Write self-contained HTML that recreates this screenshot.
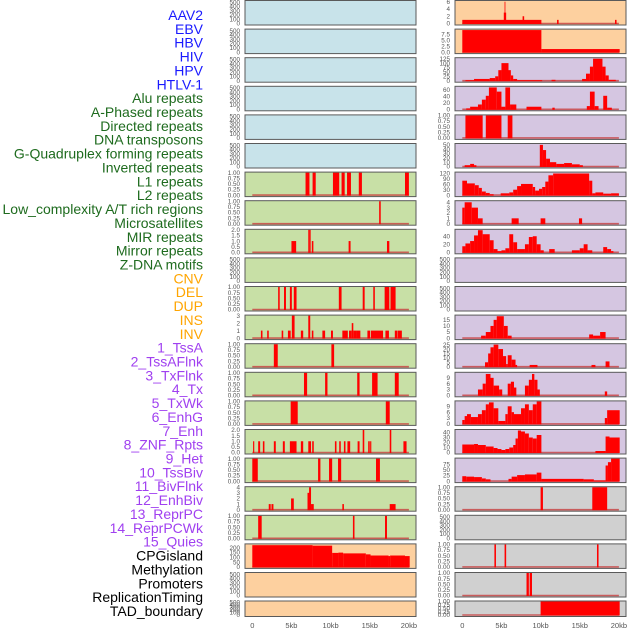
<!DOCTYPE html>
<html><head><meta charset="utf-8">
<style>
html,body{margin:0;padding:0;background:#fff;}
svg{display:block;}
text{font-family:"Liberation Sans",sans-serif;}
</style></head>
<body>
<svg id="chart" width="630" height="630" viewBox="0 0 630 630" xmlns="http://www.w3.org/2000/svg"></svg>
<script>
// ---- data ----
const labelNames = ["AAV2","EBV","HBV","HIV","HPV","HTLV-1","Alu repeats","A-Phased repeats","Directed repeats","DNA transposons","G-Quadruplex forming repeats","Inverted repeats","L1 repeats","L2 repeats","Low_complexity A/T rich regions","Microsatellites","MIR repeats","Mirror repeats","Z-DNA motifs","CNV","DEL","DUP","INS","INV","1_TssA","2_TssAFlnk","3_TxFlnk","4_Tx","5_TxWk","6_EnhG","7_Enh","8_ZNF_Rpts","9_Het","10_TssBiv","11_BivFlnk","12_EnhBiv","13_ReprPC","14_ReprPCWk","15_Quies","CPGisland","Methylation","Promoters","ReplicationTiming","TAD_boundary"];
const labelGroups = ["v","v","v","v","v","v","r","r","r","r","r","r","r","r","r","r","r","r","r","s","s","s","s","s","c","c","c","c","c","c","c","c","c","c","c","c","c","c","c","o","o","o","o","o"];
const xTickValues = [0,5,10,15,20];
const xTickLabels = ["0","5kb","10kb","15kb","20kb"];

const ticks500 = [0,100,200,300,400,500];
const ticks1 = [0,0.25,0.5,0.75,1];
const ticks2 = [0,0.5,1,1.5,2];
const ticks3 = [0,1,2,3];
const ticks4 = [0,1,2,3,4];

// segments: [startKb, endKb, value]
const rAAV = [[0,10.1,1],[5.3,5.6,3],[5.4,5.5,6],[7.7,7.9,2],[12.1,12.3,1],[19.5,19.7,1]];
const rEBV = [[0,10.1,9.4],[10.1,20.1,1.3]];
const rRow2 = [[0.4,1.5,3],[1.5,3.5,10],[3.5,4.2,15],[4.2,4.6,25],[4.6,5.0,60],[5.0,5.9,100],[5.9,6.2,60],[6.2,6.5,30],[6.5,7,10],[7,10.2,3],[11.4,11.9,5],[15.3,15.8,10],[15.8,16.3,40],[16.3,16.7,80],[16.7,17.9,125],[17.9,18.3,80],[18.3,18.7,30],[18.7,19.6,5]];
const rRow3 = [[0.5,1,3],[1,2,8],[2,2.5,15],[2.5,3,30],[3,3.4,42],[3.4,4.4,68],[4.4,5,55],[5,5.5,8],[5.5,6.1,68],[6.1,6.9,15],[8.2,10.1,8],[11.5,11.8,5],[15.9,16.3,10],[16.3,16.9,55],[16.9,17.4,10],[18,18.5,42],[18.5,19.1,5]];
const rRow4 = [[0.4,2.6,1],[3.0,5.0,1],[5.8,6.4,1]];
const rRow5 = [[0.3,1,3],[1,1.5,6],[1.5,1.8,3],[9.9,10.3,50],[10.3,10.7,38],[10.7,11.2,18],[11.2,12,10],[12,13,6],[13,14,8],[14,15,5],[15,15.4,3]];
const rRow6 = [[0,0.6,80],[0.6,1.6,65],[1.6,2.1,55],[2.1,2.5,40],[2.5,3,20],[3,3.5,12],[3.5,4,5],[4.9,6,10],[6,6.5,15],[6.5,7,30],[7,7.5,50],[7.5,9,62],[9,9.3,45],[9.3,9.8,25],[9.8,10.2,35],[10.2,10.6,45],[10.6,11,75],[11,11.6,110],[11.6,16.2,120],[16.2,16.6,80],[16.6,17,10],[17,18,15],[18,19,8],[19,20,10]];
const rRow7 = [[0,0.3,3],[0.3,1.2,4],[1.2,2.0,3],[2.0,2.6,1],[6.3,7.2,1],[10.0,10.6,1],[14.9,15.3,1]];
const rRow8 = [[0,0.4,15],[0.4,1,22],[1,1.5,28],[1.5,2,42],[2,2.6,55],[2.6,3.5,45],[3.5,4,30],[4,4.5,8],[4.5,5,3],[5,5.5,5],[5.5,6,10],[6,6.5,45],[6.5,7,25],[7,8,8],[8,8.5,20],[8.5,9,38],[9,9.5,40],[9.5,10,20],[10,10.4,5],[11.1,11.8,8],[14,15,5],[15,15.5,10],[15.5,16,20],[16,16.6,5],[18,18.5,13],[18.5,19,8],[19,19.3,3]];
const rRow11 = [[2.4,3,2],[3,3.6,5],[3.6,4,10],[4,4.4,15],[4.4,5.3,18],[5.3,5.8,10],[5.8,6.3,2],[16.2,16.7,3],[16.7,17.6,2],[17.6,18.3,5]];
const rRow12 = [[2.9,3.3,5],[3.3,3.6,15],[3.6,4.0,22],[4.0,4.6,25],[4.6,5.2,20],[5.2,5.6,12],[5.6,5.8,3],[5.8,6.3,13],[6.3,6.8,8],[6.8,7,2],[8.6,9.6,2],[16.5,17.0,2],[18.3,18.8,6]];
const rRow13 = [[2.0,2.6,3],[2.6,3,6],[3,3.6,11],[3.6,4,9],[4,4.7,5],[4.7,5.1,3],[5.8,6.2,6],[6.2,6.6,7],[6.6,6.9,4],[8,8.5,5],[8.5,8.9,8],[8.9,9.2,11],[9.2,9.6,8],[9.6,9.9,3],[18.2,18.5,2]];
const rRow14 = [[0,0.3,2],[0.3,0.6,4],[0.6,1.1,5],[1.1,2,3.5],[2,2.5,5],[2.5,3,7],[3,3.4,10],[3.4,4,11],[4,4.6,8],[4.6,5.5,1.5],[5.5,5.8,5],[5.8,6.3,9],[6.3,6.6,6],[6.6,7.5,5],[7.5,8,8],[8,8.5,10],[8.5,9,7],[9,9.5,10],[9.5,10.1,11.5],[18.2,18.5,3],[18.5,20.1,7]];
const rRow15 = [[0,1.5,16],[1.5,2,17],[2,3,15],[3,4,12],[4,4.5,9],[4.5,5,7],[5,5.5,5],[5.5,6,7],[6,6.5,10],[6.5,6.8,15],[6.8,7.1,28],[7.1,7.5,44],[7.5,8,42],[8,8.5,38],[8.5,9,30],[9,9.5,28],[9.5,10.1,35],[17,18.3,3],[18.3,18.8,32],[18.8,20.1,30]];
const rRow16 = [[0,0.5,22],[0.5,1.5,20],[1.5,2.5,18],[2.5,3,12],[3,3.6,8],[5.9,6.3,10],[6.3,7,20],[7,8,27],[8,9.5,30],[9.5,10.1,38],[10.1,15.5,10],[15.5,16.8,8],[16.8,18.3,3],[18.3,18.6,70],[18.6,19,85],[19,20.1,101]];
const rRow17 = [[10.0,10.3,1],[16.6,18.5,1]];
const rRow19 = [[4.1,4.3,1],[5.4,5.6,1],[17.2,17.4,1]];
const rRow20 = [[8.2,8.5,1],[8.6,8.9,1]];
const rRow21 = [[10.0,20.1,1]];

const lRow6 = [[6.8,7.3,1],[7.7,8.1,1],[10.3,11.1,1],[11.4,11.8,1],[12.1,12.6,1],[13.6,14.0,1],[19.5,20,1]];
const lRow7 = [[16.2,16.4,1]];
const lRow8 = [[5.0,5.6,1],[7.15,7.35,2],[7.35,7.45,2],[7.6,7.8,1],[12.3,12.55,1],[17.2,17.5,1]];
const lRow10 = [[3.3,3.5,1],[4.05,4.3,1],[4.8,5.05,1],[5.3,5.65,1],[11.05,11.4,1],[14.1,14.35,1],[15.45,15.65,1],[16.9,17.5,1],[17.65,18.3,1]];
const lRow11 = [[1.1,1.3,1],[1.9,2.1,1],[3.75,3.95,1],[4.55,4.9,1],[5.05,5.4,3],[6.2,6.5,1],[7.15,7.4,3],[7.6,7.8,1],[8.95,9.3,1],[10.05,10.3,1],[11.5,12.2,1],[12.35,12.7,1],[12.7,12.9,2],[12.9,13.3,1],[13.3,13.8,1],[14.7,15.05,1],[15.15,16.7,1],[17.0,17.45,1],[18.2,18.5,1],[18.55,19.1,1]];
const lRow12 = [[2.75,3.25,1],[10.1,10.45,1]];
const lRow13 = [[6.6,7.0,1],[9.3,9.6,1],[13.4,13.7,1],[15.3,16.0,1],[18.2,18.7,1]];
const lRow14 = [[4.9,5.8,1],[17.05,17.55,1]];
const lRow15 = [[0.1,0.25,1],[0.75,1.0,1],[1.35,1.55,1],[2.75,3.0,1],[3.9,4.15,1],[4.8,5.65,1],[6.2,6.5,1],[7.15,7.5,1],[7.65,7.85,1],[10.55,10.75,1],[11.1,11.3,1],[11.7,11.9,1],[12.15,12.5,1],[13.45,13.7,1],[14.1,14.3,2],[14.8,15.0,1],[15.05,15.2,1],[17.55,17.75,2],[19.3,19.7,1]];
const lRow16 = [[0,0.7,1],[8.4,8.7,1],[9.8,10.2,1],[10.95,11.35,1],[15.8,16.3,1]];
const lRow17 = [[2.1,2.35,1],[2.45,2.7,1],[4.95,5.3,2],[7.05,7.3,3],[7.25,7.5,4],[7.5,7.85,1],[11.5,11.7,1],[17.55,18.3,1]];
const lRow18 = [[0.75,1.2,1],[12.85,13.05,1],[16.95,17.2,1]];
const lRow19 = [[0,7.7,225],[7.7,10.2,220],[10.2,11,145],[11,11.6,148],[11.6,14.5,140],[14.5,15.1,130],[15.1,17.4,118],[17.4,17.6,112],[17.6,19.5,118],[19.5,20.1,112]];

// ---- layout ----
const svg = document.getElementById('chart');
const NS = 'http://www.w3.org/2000/svg';
const BG = {v:'#c8e3ea', r:'#c8e0a6', s:'#fdd09f', c:'#d5c6e1', o:'#d0d0d0'};
const LABEL_COLOR = {v:'#1a1aff', r:'#1e6b1e', s:'#ffa500', c:'#a040f0', o:'#000'};
const COLS = [{x0:245, x1:416, origin:252.3}, {x0:455, x1:626, origin:462.3}];
const KB = 7.83;
function xScale(col, kb){ return COLS[col].origin + kb*KB; }
function rowTop(r){ return r<21 ? 0.5 + r*28.6 : 601; }
function rowH(r){ return r<21 ? 24.5 : 15.5; }

function mk(tag, attrs, parent){
  const e = document.createElementNS(NS, tag);
  for (const k in attrs) e.setAttribute(k, attrs[k]);
  (parent||svg).appendChild(e);
  return e;
}

const panels = [
  {col:0,row:0,g:'v',t:ticks500,d:0,ymax:525,data:null},
  {col:0,row:1,g:'v',t:ticks500,d:0,ymax:525,data:null},
  {col:0,row:2,g:'v',t:ticks500,d:0,ymax:525,data:null},
  {col:0,row:3,g:'v',t:ticks500,d:0,ymax:525,data:null},
  {col:0,row:4,g:'v',t:ticks500,d:0,ymax:525,data:null},
  {col:0,row:5,g:'v',t:ticks500,d:0,ymax:525,data:null},
  {col:0,row:6,g:'r',t:ticks1,d:2,ymax:1,data:lRow6},
  {col:0,row:7,g:'r',t:ticks1,d:2,ymax:1,data:lRow7},
  {col:0,row:8,g:'r',t:ticks2,d:1,ymax:2,data:lRow8},
  {col:0,row:9,g:'r',t:ticks500,d:0,ymax:525,data:null},
  {col:0,row:10,g:'r',t:ticks1,d:2,ymax:1,data:lRow10},
  {col:0,row:11,g:'r',t:ticks3,d:0,ymax:3,data:lRow11},
  {col:0,row:12,g:'r',t:ticks1,d:2,ymax:1,data:lRow12},
  {col:0,row:13,g:'r',t:ticks1,d:2,ymax:1,data:lRow13},
  {col:0,row:14,g:'r',t:ticks1,d:2,ymax:1,data:lRow14},
  {col:0,row:15,g:'r',t:ticks2,d:1,ymax:2,data:lRow15},
  {col:0,row:16,g:'r',t:ticks1,d:2,ymax:1,data:lRow16},
  {col:0,row:17,g:'r',t:ticks4,d:0,ymax:4,data:lRow17},
  {col:0,row:18,g:'r',t:ticks1,d:2,ymax:1,data:lRow18},
  {col:0,row:19,g:'s',t:[0,50,100,150,200],d:0,ymax:233,data:lRow19},
  {col:0,row:20,g:'s',t:ticks500,d:0,ymax:525,data:null},
  {col:0,row:21,g:'s',t:ticks500,d:0,ymax:525,data:null},
  {col:1,row:0,g:'s',t:[0,2,4,6],d:0,ymax:6.2,data:rAAV},
  {col:1,row:1,g:'s',t:[0,2.5,5,7.5],d:1,ymax:9.6,data:rEBV},
  {col:1,row:2,g:'c',t:[0,25,50,75,100,125],d:0,ymax:128,data:rRow2},
  {col:1,row:3,g:'c',t:[0,20,40,60],d:0,ymax:70,data:rRow3},
  {col:1,row:4,g:'c',t:ticks1,d:2,ymax:1,data:rRow4},
  {col:1,row:5,g:'c',t:[0,10,20,30,40,50],d:0,ymax:52,data:rRow5},
  {col:1,row:6,g:'c',t:[0,30,60,90,120],d:0,ymax:125,data:rRow6},
  {col:1,row:7,g:'c',t:ticks4,d:0,ymax:4.2,data:rRow7},
  {col:1,row:8,g:'c',t:[0,20,40],d:0,ymax:56,data:rRow8},
  {col:1,row:9,g:'c',t:ticks500,d:0,ymax:525,data:null},
  {col:1,row:10,g:'c',t:ticks500,d:0,ymax:525,data:null},
  {col:1,row:11,g:'c',t:[0,5,10,15],d:0,ymax:18.5,data:rRow11},
  {col:1,row:12,g:'c',t:[0,5,10,15,20,25],d:0,ymax:25.5,data:rRow12},
  {col:1,row:13,g:'c',t:[0,3,6,9],d:0,ymax:11.6,data:rRow13},
  {col:1,row:14,g:'c',t:[0,3,6,9],d:0,ymax:11.5,data:rRow14},
  {col:1,row:15,g:'c',t:[0,10,20,30,40],d:0,ymax:45,data:rRow15},
  {col:1,row:16,g:'c',t:[0,25,50,75],d:0,ymax:101,data:rRow16},
  {col:1,row:17,g:'o',t:ticks1,d:2,ymax:1,data:rRow17},
  {col:1,row:18,g:'o',t:ticks500,d:0,ymax:525,data:null},
  {col:1,row:19,g:'o',t:ticks1,d:2,ymax:1,data:rRow19},
  {col:1,row:20,g:'o',t:ticks1,d:2,ymax:1,data:rRow20},
  {col:1,row:21,g:'o',t:ticks1,d:2,ymax:1,data:rRow21}
];

labelNames.forEach((name, i) => {
  const t = mk('text', {x:203, y:(15 + i*13.86 + 5).toFixed(2), 'text-anchor':'end', 'font-size':'14', fill:LABEL_COLOR[labelGroups[i]]});
  
  
  t.textContent = name;
});

panels.forEach((p, i) => {
  const c = COLS[p.col];
  const top = rowTop(p.row), h = rowH(p.row);
  const bottom = top + h;
  const y0 = bottom - 1.5, plotH = h - 2;
  const yScale = v => y0 - (Math.min(v, p.ymax) / p.ymax) * plotH;
  const g = mk('g', {});
  
  
  const bg = mk('rect', {x:c.x0, y:top, width:c.x1-c.x0, height:h, fill:BG[p.g]}, g);
  
  
  if (p.data) {
    const base = mk('line', {x1:xScale(p.col,0), x2:xScale(p.col,20), y1:y0, y2:y0, stroke:'#c84040', 'stroke-width':1.6, opacity:0.8}, g);
    
    
    p.data.forEach(seg => {
      const xa = xScale(p.col, seg[0]), xb = xScale(p.col, seg[1]);
      const yt = yScale(seg[2]);
      const r = mk('rect', {x:xa.toFixed(2), y:yt.toFixed(2), width:Math.max(0.8, xb-xa).toFixed(2), height:Math.max(0, y0-yt+0.5).toFixed(2), fill:'#ff0000'}, g);
      
      
    });
  }
  const border = mk('rect', {x:c.x0, y:top, width:c.x1-c.x0, height:h, fill:'none', stroke:'#5a5a5a', 'stroke-width':1}, g);
  
  
  p.t.forEach(v => {
    const ty = yScale(v);
    const lab = mk('text', {x:c.x0-5, y:(ty+2.2).toFixed(2), 'text-anchor':'end', 'font-size':'6.3', fill:'#555'}, g);
    
    
    lab.textContent = v.toFixed(p.d);
  });
});

[0,1].forEach(col => {
  xTickValues.forEach((v, i) => {
    const t = mk('text', {x:xScale(col, v).toFixed(2), y:628, 'text-anchor':'middle', 'font-size':'7.5', fill:'#555'});
    
    
    t.textContent = xTickLabels[i];
  });
});
</script>
</body></html>
